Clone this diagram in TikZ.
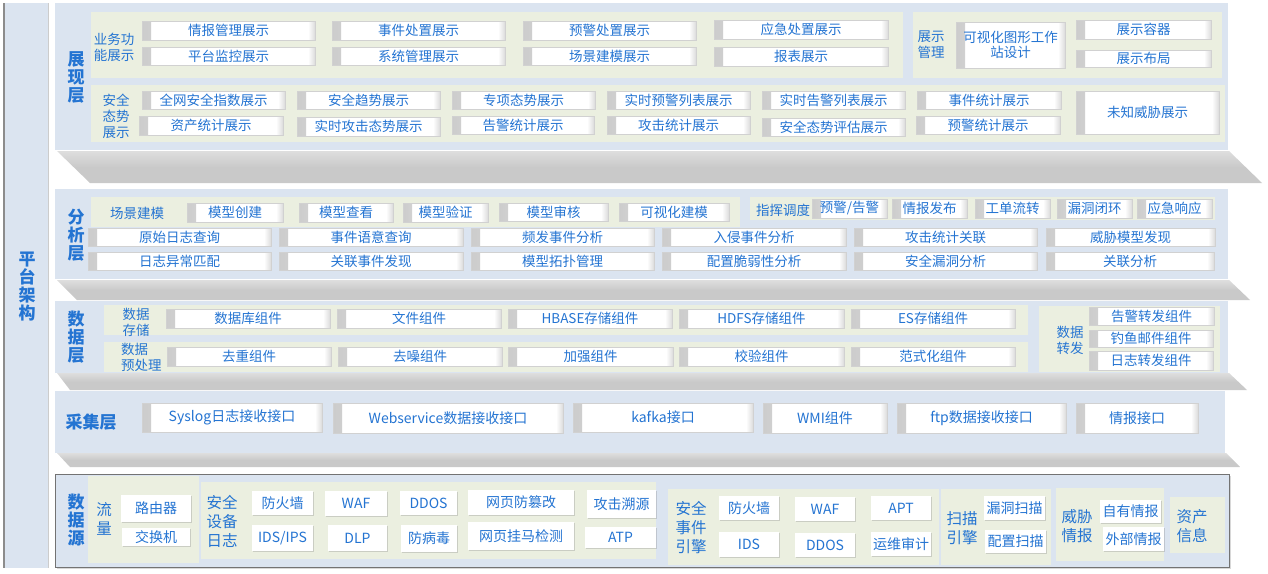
\documentclass[tikz,border=0pt]{standalone}
\usepackage{fontspec}
\setmainfont{Noto Sans CJK SC}
\usetikzlibrary{shadows}
\definecolor{tb}{RGB}{36,116,210}
\definecolor{panel}{RGB}{219,228,240}
\definecolor{beige}{RGB}{235,239,224}
\tikzset{
 btn/.style={fill=white, draw=black!18, line width=0.4pt, inner sep=0pt, align=center, text=tb,
   font=\fontsize{13.5}{15}\selectfont,
   drop shadow={shadow xshift=0.8pt, shadow yshift=-1.2pt, opacity=0.35},
   path picture={
     \shade[left color=black!20, right color=white] (path picture bounding box.south west) rectangle ([xshift=9pt]path picture bounding box.north west);
     \shade[left color=white, right color=black!14] ([xshift=-7pt]path picture bounding box.south east) rectangle (path picture bounding box.north east);
   }},
 bigbtn/.style={btn, font=\fontsize{14}{16}\selectfont},
 flat/.style={fill=white, draw=none, inner sep=0pt, align=center, text=tb,
   font=\fontsize{14}{16}\selectfont,
   drop shadow={shadow xshift=1pt, shadow yshift=-1pt, opacity=0.3}},
 layer/.style={text=tb, font=\fontsize{17}{18}\selectfont\bfseries, align=center, inner sep=0pt},
 grp/.style={text=tb, font=\fontsize{13.5}{16}\selectfont, align=center, inner sep=0pt},
 grpb/.style={text=tb, font=\fontsize{15.5}{19}\selectfont, align=center, inner sep=0pt},
 band/.style={top color=black!13, bottom color=black!21, middle color=black!21},
}
\newcommand\B[7][btn]{\node[#1, minimum width={(#5-#3)*1pt}, minimum height={(#6-#4)*1pt}] (#2) at ({(#3+#5)/2},{(#4+#6)/2}) {#7};}
\begin{document}
\begin{tikzpicture}[x=1pt,y=-1pt]
\useasboundingbox[fill=white] (0,0) rectangle (1268,573);
% left column
\fill[panel] (3,3) rectangle (49,568);
\draw[black!45, line width=1.2pt] (4,3) -- (4,568);
\draw[black!20, line width=1pt] (48.5,3) -- (48.5,568);
\node[layer] (plat) at (27,287) {平\\台\\架\\构};
% bands
\shade[band] (57,151) -- (1229,151) -- (1262,183) -- (90,183) -- cycle;
\shade[band] (57,280) -- (1229,280) -- (1250,300) -- (77,300) -- cycle;
\shade[band] (57,373) -- (1229,373) -- (1247,390) -- (70,390) -- cycle;
\shade[band] (57,453) -- (1226,453) -- (1240,467) -- (70,467) -- cycle;
% panels
\fill[panel] (55,3) rectangle (1228,150);
\fill[panel] (55,189) rectangle (1228,279);
\fill[panel] (55,301) rectangle (1228,373);
\fill[panel] (55,391) rectangle (1225,453);
\path[fill=panel, draw=black!55, line width=1pt, drop shadow={shadow xshift=1.5pt, shadow yshift=-1.5pt, opacity=0.3}] (55,474) rectangle (1229,567);

% ---------- 展现层
\node[layer] (L1) at (76,77) {展\\现\\层};
\fill[beige] (91,12) rectangle (903,78);
\fill[beige] (913,12) rectangle (1222,78);
\fill[beige] (91,85) rectangle (1225,142);
\node[grp] (g11) at (114,47) {业务功\\能展示};
\node[grp] (g12) at (116,116) {安全\\态势\\展示};
\node[grp] (g13) at (931,45) {展示\\管理};
\B{p1}{142}{21}{315}{40}{情报管理展示}
\B{p2}{332}{21}{505}{40}{事件处置展示}
\B{p3}{523}{21}{696}{40}{预警处置展示}
\B{p4}{714}{20}{888}{39}{应急处置展示}
\B{p5}{142}{47}{315}{65}{平台监控展示}
\B{p6}{332}{47}{505}{65}{系统管理展示}
\B{p7}{523}{47}{696}{65}{场景建模展示}
\B{p8}{714}{47}{888}{66}{报表展示}
\B{p9}{956}{22}{1065}{68}{可视化图形工作\\站设计}
\B{p10}{1076}{20}{1211}{39}{展示容器}
\B{p11}{1076}{50}{1211}{67}{展示布局}
\B{s1}{142}{91}{285}{109}{全网安全指数展示}
\B{s2}{297}{91}{440}{109}{安全趋势展示}
\B{s3}{452}{91}{595}{109}{专项态势展示}
\B{s4}{607}{91}{750}{109}{实时预警列表展示}
\B{s5}{762}{91}{905}{109}{实时告警列表展示}
\B{s6}{917}{91}{1061}{109}{事件统计展示}
\B{s7}{139}{116}{283}{135}{资产统计展示}
\B{s8}{297}{117}{440}{136}{实时攻击态势展示}
\B{s9}{452}{116}{594}{134}{告警统计展示}
\B{s10}{607}{116}{750}{134}{攻击统计展示}
\B{s11}{762}{118}{905}{136}{安全态势评估展示}
\B{s12}{916}{116}{1060}{134}{预警统计展示}
\B{s13}{1076}{91}{1219}{134}{未知威胁展示}

% ---------- 分析层
\node[layer] (L2) at (76,235) {分\\析\\层};
\fill[beige] (91,197) rectangle (740,227);
\fill[beige] (750,197) rectangle (1215,220);
\node[grp] (g21) at (137,213) {场景建模};
\node[grp] (g22) at (783,210) {指挥调度};
\B{a1}{187}{203}{283}{222}{模型创建}
\B{a2}{299}{203}{393}{222}{模型查看}
\B{a3}{403}{203}{488}{222}{模型验证}
\B{a4}{499}{203}{608}{221}{模型审核}
\B{a5}{619}{203}{729}{221}{可视化建模}
\B{c1}{812}{199}{887}{218}{预警/告警}
\B{c2}{892}{199}{967}{218}{情报发布}
\B{c3}{975}{199}{1050}{218}{工单流转}
\B{c4}{1057}{199}{1132}{218}{漏洞闭环}
\B{c5}{1137}{199}{1212}{218}{应急响应}
\B{q1}{88}{228}{271}{246}{原始日志查询}
\B{q2}{279}{228}{463}{246}{事件语意查询}
\B{q3}{471}{228}{654}{246}{频发事件分析}
\B{q4}{662}{228}{846}{246}{入侵事件分析}
\B{q5}{854}{228}{1037}{246}{攻击统计关联}
\B{q6}{1046}{228}{1215}{246}{威胁模型发现}
\B{q7}{88}{252}{271}{270}{日志异常匹配}
\B{q8}{279}{252}{463}{270}{关联事件发现}
\B{q9}{471}{252}{654}{270}{模型拓扑管理}
\B{q10}{662}{252}{846}{270}{配置脆弱性分析}
\B{q11}{854}{252}{1037}{270}{安全漏洞分析}
\B{q12}{1046}{252}{1214}{270}{关联分析}

% ---------- 数据层
\node[layer] (L3) at (76,337) {数\\据\\层};
\fill[beige] (104,305) rectangle (1028,335);
\fill[beige] (104,342) rectangle (1028,372);
\fill[beige] (1039,306) rectangle (1220,372);
\node[grp] (g31) at (136,322) {数据\\存储};
\node[grp, align=left, anchor=west] (g32) at (121,357) {数据\\预处理};
\node[grp] (g33) at (1070,340) {数据\\转发};
\B{d1}{166}{309}{330}{328}{数据库组件}
\B{d2}{337}{309}{501}{328}{文件组件}
\B{d3}{508}{309}{672}{328}{HBASE存储组件}
\B{d4}{679}{309}{844}{328}{HDFS存储组件}
\B{d5}{851}{309}{1015}{328}{ES存储组件}
\B{d6}{167}{347}{331}{366}{去重组件}
\B{d7}{338}{347}{502}{366}{去噪组件}
\B{d8}{508}{347}{673}{366}{加强组件}
\B{d9}{679}{347}{844}{366}{校验组件}
\B{d10}{851}{347}{1015}{366}{范式化组件}
\B{f1}{1089}{307}{1214}{325}{告警转发组件}
\B{f2}{1089}{330}{1213}{347}{钓鱼邮件组件}
\B{f3}{1089}{351}{1213}{370}{日志转发组件}

% ---------- 采集层
\node[layer] (L4) at (91,422) {采集层};
\B[bigbtn]{k1}{142}{403}{322}{432}{Syslog日志接收接口}
\B[bigbtn]{k2}{333}{403}{563}{433}{Webservice数据接收接口}
\B[bigbtn]{k3}{573}{403}{753}{432}{kafka接口}
\B[bigbtn]{k4}{763}{403}{887}{433}{WMI组件}
\B[bigbtn]{k5}{897}{403}{1066}{433}{ftp数据接收接口}
\B[bigbtn]{k6}{1076}{403}{1198}{433}{情报接口}

% ---------- 数据源
\node[layer] (L5) at (76,520) {数\\据\\源};
\fill[beige] (88,476) rectangle (199,563);
\fill[beige] (201,482) rectangle (656,559);
\fill[beige] (668,489) rectangle (939,565);
\fill[beige] (941,489) rectangle (1051,565);
\fill[beige] (1056,488) rectangle (1164,561);
\fill[beige] (1170,497) rectangle (1225,553);
\node[grpb] (g51) at (104,519) {流\\量};
\node[grpb] (g52) at (222,521) {安全\\设备\\日志};
\node[grpb] (g53) at (691,528) {安全\\事件\\引擎};
\node[grpb] (g54) at (962,528) {扫描\\引擎};
\node[grpb] (g55) at (1077,526) {威胁\\情报};
\node[grpb] (g56) at (1192,526) {资产\\信息};
\B[flat]{e1}{121}{495}{191}{522}{路由器}
\B[flat]{e2}{122}{528}{190}{546}{交换机}
\B[flat]{e3}{252}{491}{313}{515}{防火墙}
\B[flat]{e4}{325}{491}{387}{516}{WAF}
\B[flat]{e5}{400}{491}{457}{515}{DDOS}
\B[flat]{e6}{468}{490}{574}{515}{网页防篡改}
\B[flat]{e7}{587}{490}{656}{518}{攻击溯源}
\B[flat]{e8}{252}{525}{313}{551}{IDS/IPS}
\B[flat]{e9}{328}{525}{387}{551}{DLP}
\B[flat]{e10}{401}{525}{457}{552}{防病毒}
\B[flat]{e11}{468}{522}{574}{550}{网页挂马检测}
\B[flat]{e12}{585}{527}{656}{548}{ATP}
\B[flat]{e13}{719}{496}{779}{520}{防火墙}
\B[flat]{e14}{795}{497}{855}{521}{WAF}
\B[flat]{e15}{871}{496}{931}{520}{APT}
\B[flat]{e16}{719}{532}{779}{557}{IDS}
\B[flat]{e17}{795}{533}{855}{557}{DDOS}
\B[flat]{e18}{871}{532}{931}{556}{运维审计}
\B[flat]{e19}{984}{496}{1045}{520}{漏洞扫描}
\B[flat]{e20}{985}{530}{1046}{553}{配置扫描}
\B[flat]{e21}{1100}{500}{1161}{523}{自有情报}
\B[flat]{e22}{1103}{527}{1164}{551}{外部情报}
\end{tikzpicture}
\end{document}
